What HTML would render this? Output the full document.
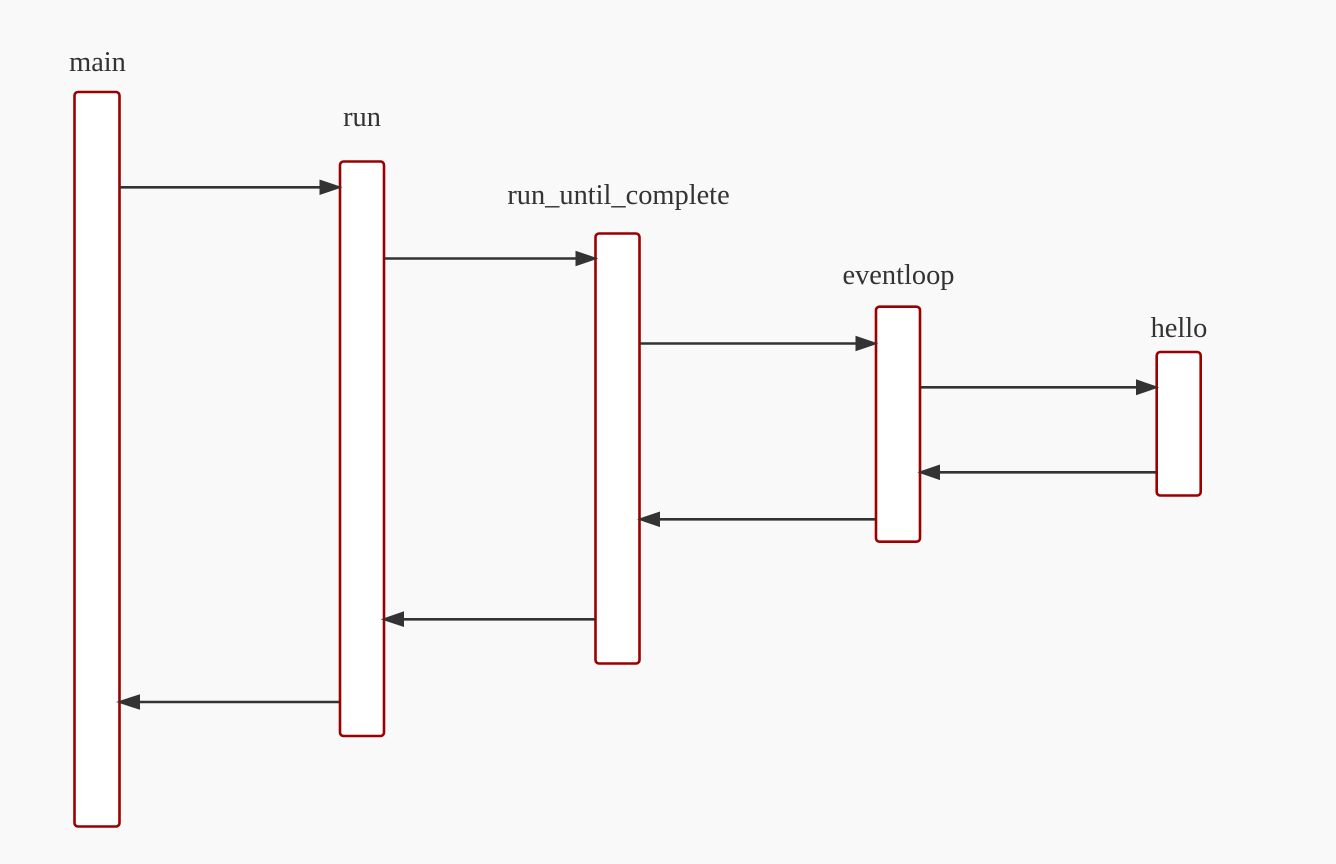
<!DOCTYPE html>
<html><head><meta charset="utf-8"><style>
html,body{margin:0;padding:0;background:#f9f9f9;}
svg{display:block;}
text{font-family:"Liberation Serif",serif;font-size:28.4px;fill:#333;}
</style></head><body>
<svg width="1336" height="864" viewBox="0 0 1336 864" xmlns="http://www.w3.org/2000/svg">
<rect x="0" y="0" width="1336" height="864" fill="#f9f9f9"/>
<g fill="#fff" stroke="#990000" stroke-width="2.6">
<rect x="74.5" y="92" width="45" height="734.5" rx="3.5"/>
<rect x="340" y="161.5" width="44" height="574.5" rx="3.5"/>
<rect x="595.5" y="233.5" width="44" height="430" rx="3.5"/>
<rect x="876" y="306.7" width="44" height="235" rx="3.5"/>
<rect x="1156.7" y="352" width="44" height="143.5" rx="3.5"/>
</g>
<g text-anchor="middle">
<text x="97.5" y="71">main</text>
<text x="362" y="126">run</text>
<text x="618.5" y="204">run_until_complete</text>
<text x="898.5" y="284">eventloop</text>
<text x="1179" y="337">hello</text>
</g>
<g stroke="#333" stroke-width="2.6">
<line x1="120" y1="187.3" x2="322" y2="187.3"/>
<line x1="385" y1="258.5" x2="578" y2="258.5"/>
<line x1="640" y1="343.5" x2="858" y2="343.5"/>
<line x1="921" y1="387.3" x2="1138" y2="387.3"/>
<line x1="1156" y1="472.3" x2="938" y2="472.3"/>
<line x1="875" y1="519.3" x2="658" y2="519.3"/>
<line x1="595" y1="619.3" x2="402" y2="619.3"/>
<line x1="339" y1="702" x2="138" y2="702"/>
</g>
<g fill="#333">
<polygon points="342.5,187.3 319.5,179.5 319.5,195"/>
<polygon points="598.3,258.5 575.5,250.7 575.5,266.3"/>
<polygon points="878.3,343.5 855.5,335.7 855.5,351.3"/>
<polygon points="1159.3,387.3 1136,379.3 1136,395.2"/>
<polygon points="917.3,472.3 940,464.5 940,480.1"/>
<polygon points="637,519.3 660,511.5 660,527.1"/>
<polygon points="380.7,619.3 404,611.3 404,627"/>
<polygon points="116,702 140,694.2 140,709.8"/>
</g>
</svg>
</body></html>
